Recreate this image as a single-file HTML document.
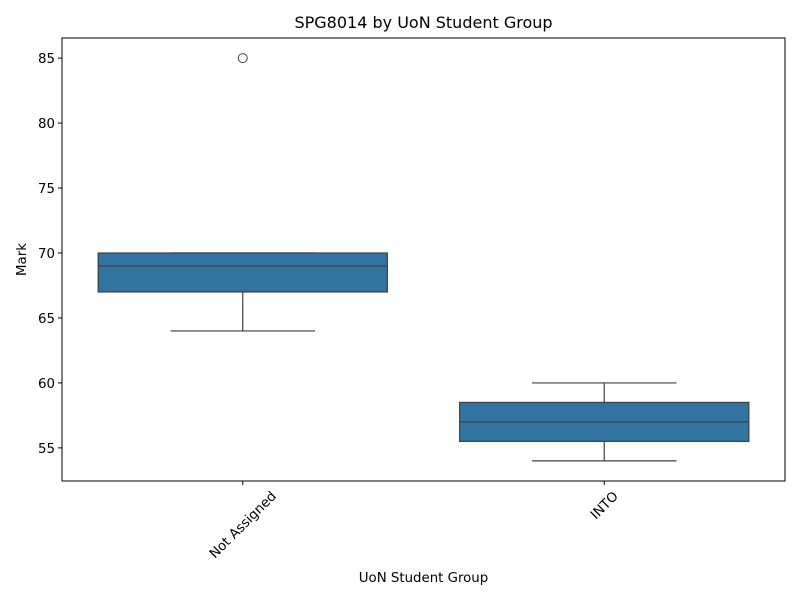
<!DOCTYPE html>
<html><head><meta charset="utf-8"><style>body{margin:0;background:#fff}svg{font-family:"DejaVu Sans","Liberation Sans",sans-serif}</style></head>
<body>
<svg id="chart" width="800" height="600" viewBox="0 0 800 600">
<text x="423.5" y="28" text-anchor="middle" font-size="16">SPG8014 by UoN Student Group</text>
<g id="plot"></g>
<text x="423.5" y="582" text-anchor="middle" font-size="13.33">UoN Student Group</text>
<text transform="translate(26,259.5) rotate(-90)" text-anchor="middle" font-size="13.33">Mark</text>
</svg>
<script>
const categories=["Not Assigned","INTO"];
const q1=[67,55.5];
const medians=[69,57];
const q3=[70,58.5];
const whiskerLow=[64,54];
const whiskerHigh=[70,60];
const outliers=[[85],[]];
const yTicks=[55,60,65,70,75,80,85];
const L=62,R=785,T=38,B=481,ymin=52.45,ymax=86.55;
const ns="http://www.w3.org/2000/svg";
const g=document.getElementById('plot');
function y(v){return B-(v-ymin)/(ymax-ymin)*(B-T);}
function x(i){return L+(i+0.5)/categories.length*(R-L);}
const bw=0.8*(R-L)/categories.length;
function mk(t,a,p){const e=document.createElementNS(ns,t);for(const k in a)e.setAttribute(k,a[k]);(p||g).appendChild(e);return e;}
yTicks.forEach(v=>{
 const t=mk('line',{x1:L-4,x2:L,y1:y(v),y2:y(v),stroke:'#000'});
 
 
 const s=mk('text',{x:L-7,y:y(v)+5,'text-anchor':'end','font-size':13.33});
 s.textContent=v;
 
 
});
categories.forEach((c,i)=>{
 const cx=x(i);
 const grp=mk('g',{});
 
 
 const st={stroke:'#3f3f3f','stroke-width':1.2};
 mk('line',Object.assign({x1:cx,x2:cx,y1:y(q1[i]),y2:y(whiskerLow[i])},st),grp);
 mk('line',Object.assign({x1:cx,x2:cx,y1:y(q3[i]),y2:y(whiskerHigh[i])},st),grp);
 mk('line',Object.assign({x1:cx-bw/4,x2:cx+bw/4,y1:y(whiskerLow[i]),y2:y(whiskerLow[i])},st),grp);
 mk('line',Object.assign({x1:cx-bw/4,x2:cx+bw/4,y1:y(whiskerHigh[i]),y2:y(whiskerHigh[i])},st),grp);
 mk('rect',Object.assign({x:cx-bw/2,y:y(q3[i]),width:bw,height:y(q1[i])-y(q3[i]),fill:'#3274a1'},st),grp);
 mk('line',Object.assign({x1:cx-bw/2,x2:cx+bw/2,y1:y(medians[i]),y2:y(medians[i])},st),grp);
 outliers[i].forEach(o=>{
  const p=mk('circle',{cx:cx,cy:y(o),r:4.5,fill:'none',stroke:'#3f3f3f','stroke-width':1},grp);
  
  
 });
 const t=mk('line',{x1:cx,x2:cx,y1:B,y2:B+4,stroke:'#000'});
 
 
 const s=mk('text',{'text-anchor':'middle','font-size':13.33});
 s.textContent=c;
 
 
 const len=s.getComputedTextLength();
 const half=(len/2)*Math.SQRT1_2+13.33*Math.SQRT1_2/2;
 const cy=B+8+half;
 s.setAttribute('transform',`translate(${cx},${cy}) rotate(-45) translate(0,4.5)`);
});
const f=mk('rect',{x:L,y:T,width:R-L,height:B-T,fill:'none',stroke:'#000','stroke-width':1});


</script>
</body></html>
